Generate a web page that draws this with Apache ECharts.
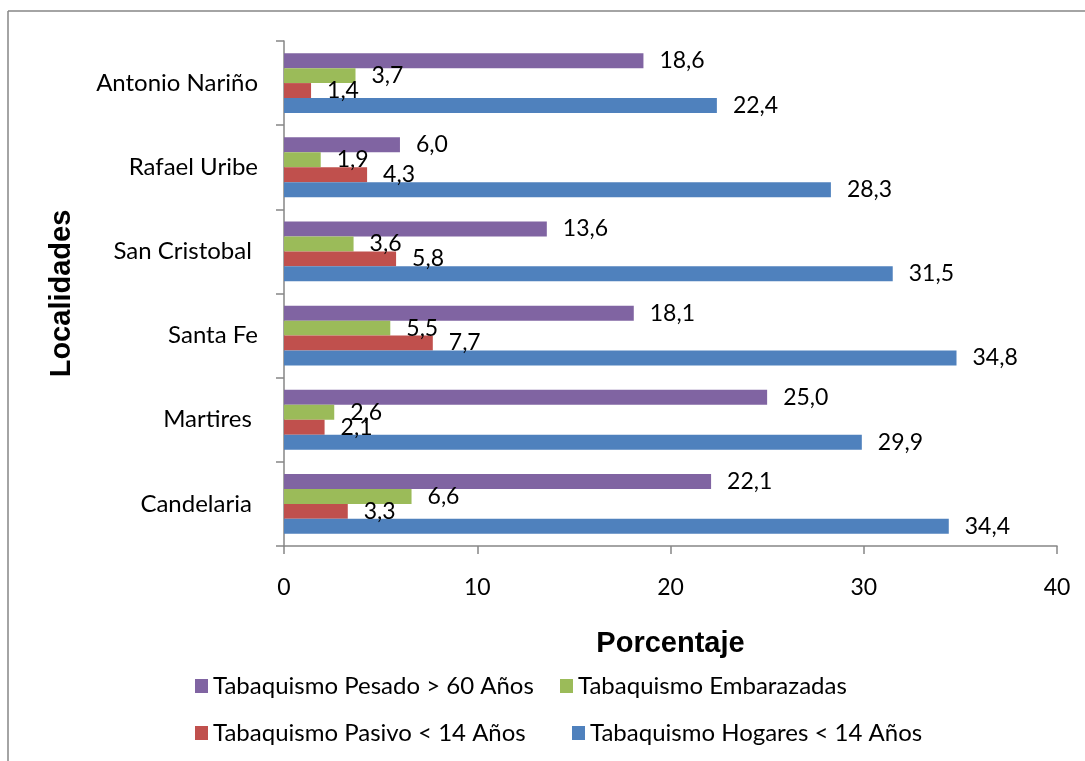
<!DOCTYPE html>
<html>
<head>
<meta charset="utf-8">
<script src="https://cdn.jsdelivr.net/npm/echarts@6/dist/echarts.min.js"></script>
<style>
  html, body { margin: 0; padding: 0; background: #fff; }
  #chart { width: 1085px; height: 761px; }
</style>
</head>
<body>
<div id="chart"></div>
<script>
  // localidades, de abajo hacia arriba como en el eje
  const localidades = ['Candelaria ', 'Martires ', 'Santa Fe', 'San Cristobal ', 'Rafael Uribe', 'Antonio Nariño']
  const pesado = [22.1, 25.0, 18.1, 13.6, 6.0, 18.6]
  const embarazadas = [6.6, 2.6, 5.5, 3.6, 1.9, 3.7]
  const pasivo = [3.3, 2.1, 7.7, 5.8, 4.3, 1.4]
  const hogares = [34.4, 29.9, 34.8, 31.5, 28.3, 22.4]
  const xTicks = [0, 10, 20, 30, 40]

  const fuente = 'Lato'
  const gris = '#868686'

  function serie (name, data, color) {
    return {
      name: name,
      type: 'bar',
      data: data,
      barGap: '0%',
      barCategoryGap: '29%',
      itemStyle: { color: color },
      label: {
        show: true,
        position: 'right',
        distance: 16,
        color: '#000',
        fontFamily: fuente,
        fontSize: 23,
        formatter: p => p.value.toFixed(1).replace('.', ',')
      }
    }
  }

  function leyenda (name, left, top) {
    return {
      data: [name],
      left: left,
      top: top,
      itemWidth: 13,
      itemHeight: 14,
      icon: 'rect',
      textStyle: { fontFamily: fuente, fontSize: 24, color: '#000' }
    }
  }

  const chart = echarts.init(document.getElementById('chart'))
  chart.setOption({
    animation: false,
    grid: { left: 284, right: 28, top: 41, bottom: 215 },
    graphic: [
      { type: 'line', shape: { x1: 8, y1: 11, x2: 1085, y2: 11 }, style: { stroke: gris, lineWidth: 1.5 } },
      { type: 'line', shape: { x1: 8, y1: 11, x2: 8, y2: 761 }, style: { stroke: gris, lineWidth: 1.5 } }
    ],
    legend: [
      leyenda('Tabaquismo Pesado > 60 Años', 190, 669),
      leyenda('Tabaquismo Embarazadas', 555, 669),
      leyenda('Tabaquismo Pasivo < 14 Años', 190, 716),
      leyenda('Tabaquismo Hogares < 14 Años', 567, 716)
    ],
    xAxis: {
      type: 'value',
      min: xTicks[0],
      max: xTicks[xTicks.length - 1],
      interval: 10,
      name: 'Porcentaje',
      nameLocation: 'middle',
      nameGap: 83,
      nameTextStyle: { fontFamily: 'Liberation Sans', fontWeight: 'bold', fontSize: 29, color: '#000' },
      splitLine: { show: false },
      axisLine: { show: true, lineStyle: { color: gris, width: 1.5 } },
      axisTick: { show: true, length: 8, lineStyle: { color: gris, width: 1.5 } },
      axisLabel: { margin: 30, fontFamily: fuente, fontSize: 23, color: '#000' }
    },
    yAxis: {
      type: 'category',
      data: localidades,
      name: 'Localidades',
      nameLocation: 'middle',
      nameGap: 208,
      nameRotate: 90,
      nameTextStyle: { fontFamily: 'Liberation Sans', fontWeight: 'bold', fontSize: 29, color: '#000' },
      axisLine: { show: true, lineStyle: { color: gris, width: 1.5 } },
      axisTick: { show: true, length: 8, lineStyle: { color: gris, width: 1.5 } },
      axisLabel: { margin: 26, fontFamily: fuente, fontSize: 24, color: '#000' }
    },
    series: [
      serie('Tabaquismo Pesado > 60 Años', pesado, '#8064A2'),
      serie('Tabaquismo Embarazadas', embarazadas, '#9BBB59'),
      serie('Tabaquismo Pasivo < 14 Años', pasivo, '#C0504D'),
      serie('Tabaquismo Hogares < 14 Años', hogares, '#4F81BD')
    ]
  })
</script>
</body>
</html>
